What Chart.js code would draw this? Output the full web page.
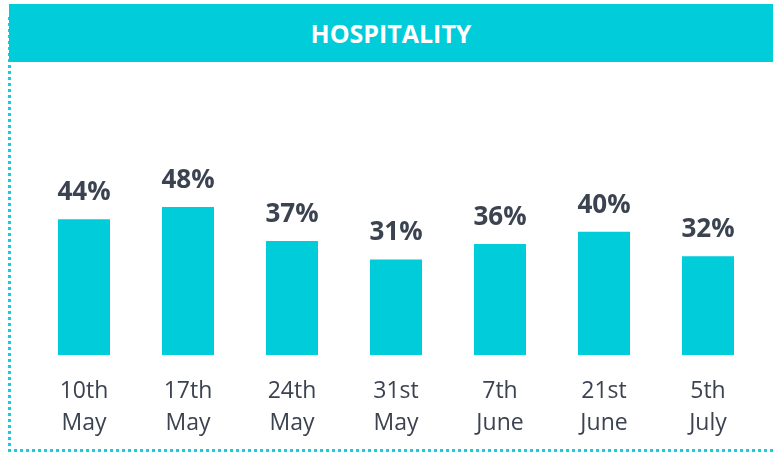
<!DOCTYPE html>
<html>
<head>
<meta charset="utf-8">
<script src="https://cdn.jsdelivr.net/npm/chart.js@4/dist/chart.umd.min.js"></script>
<style>
  html, body { margin: 0; padding: 0; background: #fff; }
  body { width: 773px; height: 454px; position: relative; overflow: hidden; font-family: 'Open Sans', sans-serif; }
  .frame {
    position: absolute; left: 8px; top: 17px; width: 780px; height: 432px;
    border-left: 3px dotted #1ccbd9; border-bottom: 3px dotted #1ccbd9;
  }
  .title {
    position: absolute; left: 9px; top: 4px; width: 764px; height: 58px;
    background: #00ccda; color: #fff; font-weight: 700; font-size: 25px;
    line-height: 58px; text-align: center; z-index: 2;
  }
  #chart-wrap { position: absolute; left: 0; top: 10px; width: 773px; height: 454px; z-index: 1; }
</style>
</head>
<body>
<div class="frame"></div>
<div class="title">HOSPITALITY</div>
<div id="chart-wrap"><canvas id="chart-hospitality"></canvas></div>
<script>
  // Weekly values, %
  const weeks = [['10th', 'May'], ['17th', 'May'], ['24th', 'May'], ['31st', 'May'], ['7th', 'June'], ['21st', 'June'], ['5th', 'July']];
  const hospitality = [44, 48, 37, 31, 36, 40, 32];

  const textColor = '#3b4351';

  // Draws "44%" above each bar
  const valueLabels = {
    id: 'valueLabels',
    afterDatasetsDraw(chart) {
      const ctx = chart.ctx;
      const meta = chart.getDatasetMeta(0);
      ctx.save();
      ctx.font = "bold 26px 'Open Sans', sans-serif";
      ctx.fillStyle = textColor;
      ctx.textAlign = 'center';
      ctx.textBaseline = 'alphabetic';
      meta.data.forEach((bar, i) => {
        ctx.fillText(hospitality[i] + '%', bar.x, bar.y - 19);
      });
      ctx.restore();
    }
  };

  new Chart(document.getElementById('chart-hospitality'), {
    type: 'bar',
    data: {
      labels: weeks,
      datasets: [{
        data: hospitality,
        backgroundColor: '#00ccda',
        barPercentage: 0.5,
        categoryPercentage: 1
      }]
    },
    options: {
      responsive: true,
      maintainAspectRatio: false,
      animation: false,
      layout: { padding: { left: 32, right: 13, top: 160, bottom: 5 } },
      plugins: {
        legend: { display: false },
        tooltip: { enabled: false }
      },
      scales: {
        x: {
          grid: { display: false, drawTicks: false },
          border: { display: false },
          ticks: {
            color: textColor,
            padding: 20,
            font: { family: "'Open Sans', sans-serif", size: 23, lineHeight: '32px' }
          }
        },
        y: {
          display: false,
          min: 0,
          max: 60
        }
      }
    },
    plugins: [valueLabels]
  });
</script>
</body>
</html>
